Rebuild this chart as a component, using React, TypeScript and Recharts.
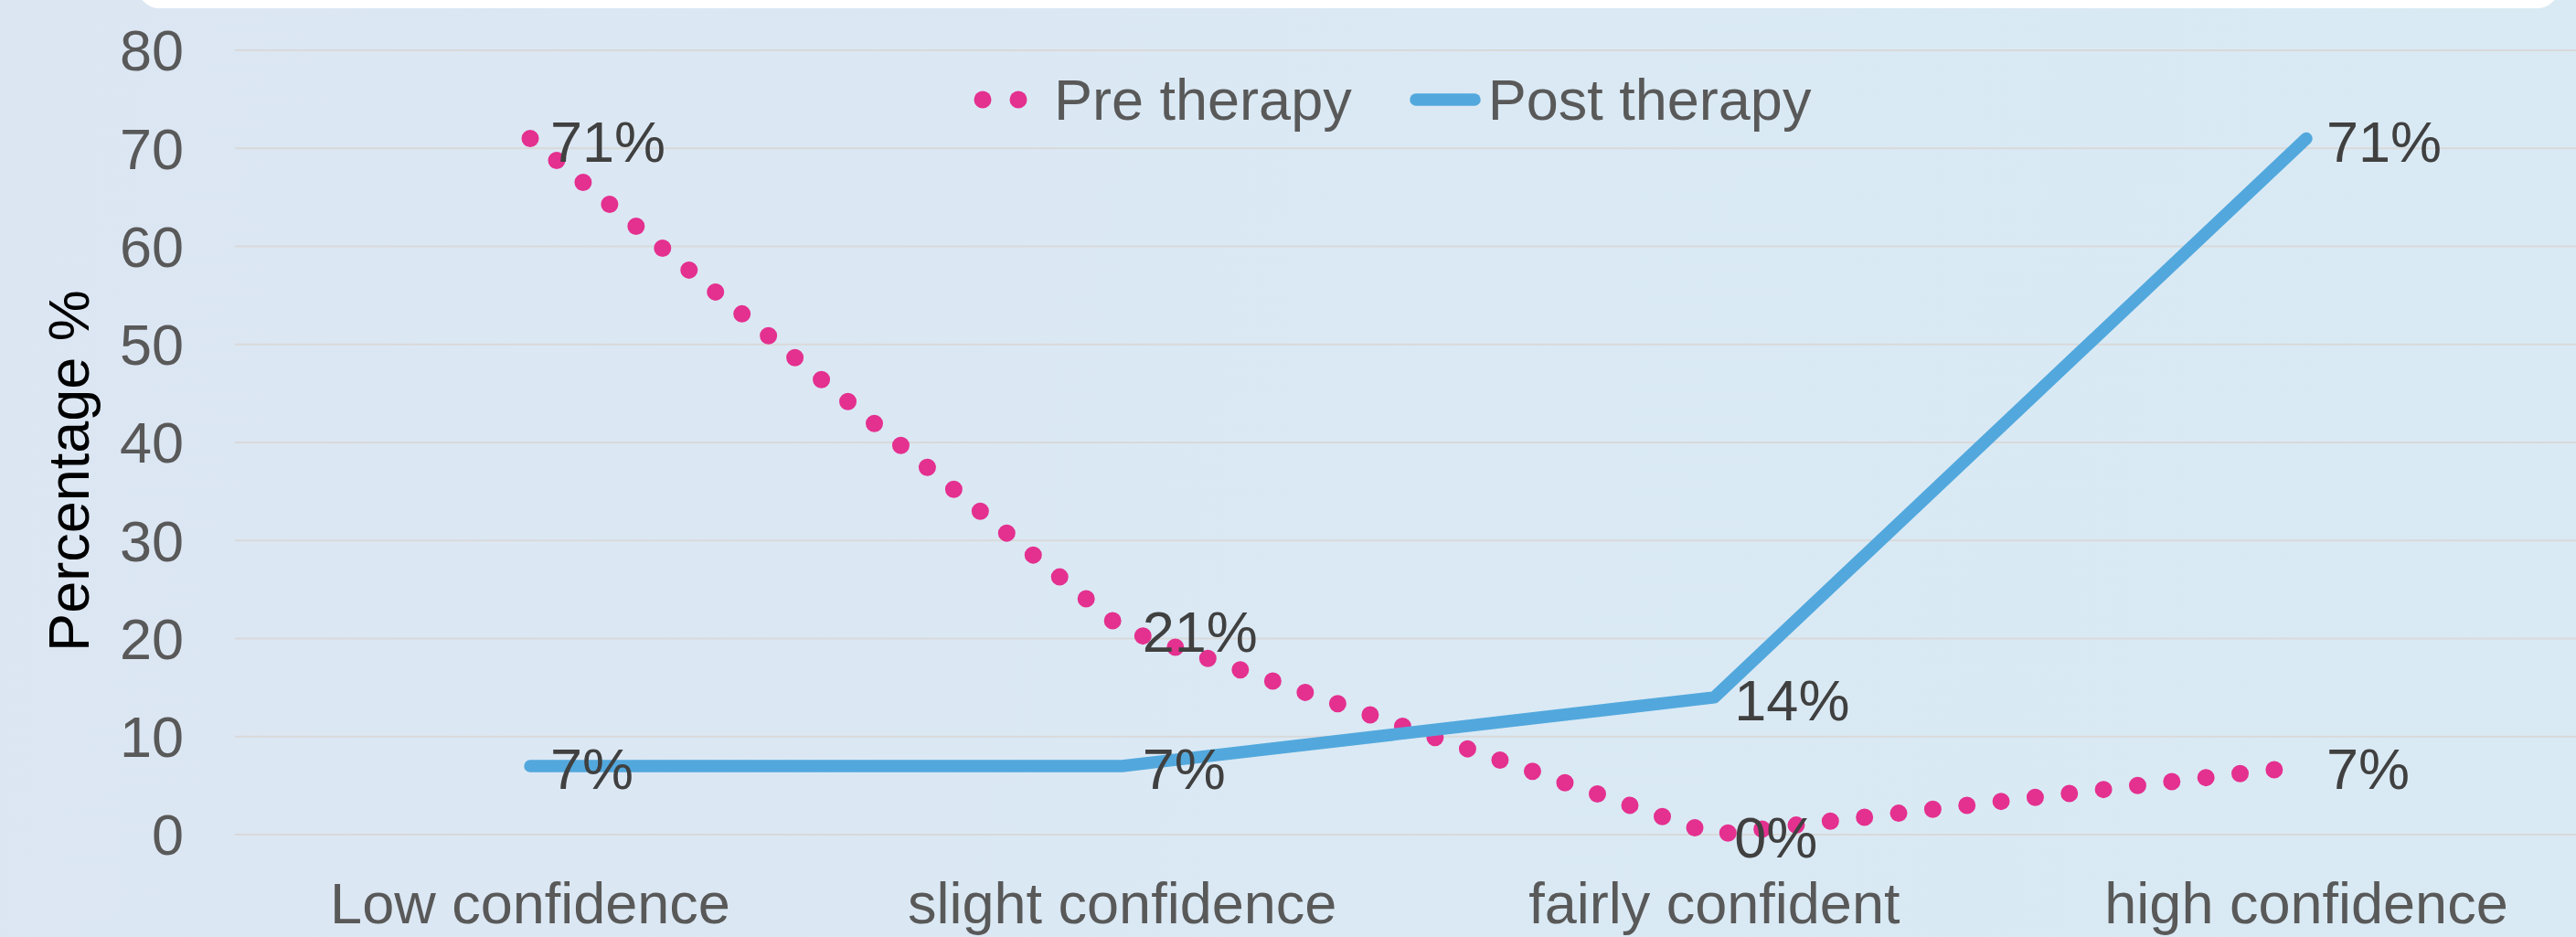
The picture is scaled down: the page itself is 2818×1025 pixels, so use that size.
import React from 'react';
import { LineChart, Line, XAxis, YAxis, CartesianGrid, Legend, LabelList, Label } from 'recharts';

const categories = ['Low confidence', 'slight confidence', 'fairly confident', 'high confidence'];
const preTherapy = [71, 21, 0, 7];
const postTherapy = [7, 7, 14, 71];
const yTicks = [0, 10, 20, 30, 40, 50, 60, 70, 80];
const seriesNames = ['Pre therapy', 'Post therapy'];

const data = categories.map((c, i) => ({ category: c, pre: preTherapy[i], post: postTherapy[i] }));

const FONT = "'Liberation Sans', Arial, Helvetica, sans-serif";
const FS = 63;
const PINK = '#E4308F';
const BLUE = '#52A8DD';
const TICK = '#595959';
const LABEL = '#404040';

const renderPointLabel = (props: any) => {
  const x = props.x ?? props.viewBox?.x;
  const y = props.y ?? props.viewBox?.y;
  if (x == null || y == null) return null;
  return (
    <text x={x + 22} y={y} dy={25} fill={LABEL} fontSize={FS} fontFamily={FONT} textAnchor="start">
      {`${props.value}%`}
    </text>
  );
};

const renderYLabel = (props: any) => {
  const vb = props.viewBox || { x: 0, y: 55, width: 257, height: 858 };
  const cx = vb.x + 75;
  const cy = vb.y + vb.height / 2 + 31;
  return (
    <text
      x={cx}
      y={cy}
      transform={`rotate(-90, ${cx}, ${cy})`}
      textAnchor="middle"
      dominantBaseline="central"
      fill="#000000"
      fontSize={FS}
      fontFamily={FONT}
    >
      Percentage %
    </text>
  );
};

const renderLegend = () => (
  <div
    style={{
      display: 'flex',
      alignItems: 'center',
      fontFamily: FONT,
      fontSize: FS,
      color: TICK,
      whiteSpace: 'nowrap',
      lineHeight: 'normal',
    }}
  >
    <svg width={78} height={22} style={{ display: 'block' }}>
      <circle cx={10} cy={11} r={9.5} fill={PINK} />
      <circle cx={49} cy={11} r={9.5} fill={PINK} />
    </svg>
    <span style={{ marginLeft: 10 }}>{seriesNames[0]}</span>
    <svg width={92} height={22} style={{ display: 'block', marginLeft: 57 }}>
      <line x1={13} y1={11} x2={77} y2={11} stroke={BLUE} strokeWidth={13.5} strokeLinecap="round" />
    </svg>
    <span>{seriesNames[1]}</span>
  </div>
);

export default function App() {
  return (
    <div
      style={{
        position: 'absolute',
        left: 0,
        top: 0,
        width: 2818,
        height: 1025,
        overflow: 'hidden',
        background: 'linear-gradient(100deg, #dce6f3 0%, #dae9f4 55%, #d9eaf4 100%)',
      }}
    >
      <div
        style={{
          position: 'absolute',
          left: 150,
          top: -40,
          width: 2650,
          height: 49,
          background: '#ffffff',
          borderRadius: 32,
        }}
      />
      <div style={{ position: 'absolute', left: 0, top: 0 }}>
        <LineChart
          width={2860}
          height={1025}
          data={data}
          margin={{ top: 55, right: 14, bottom: 0, left: 0 }}
          style={{ fontFamily: FONT }}
        >
          <CartesianGrid horizontal={true} vertical={false} stroke="#D9D9D9" strokeWidth={2} />
          <XAxis
            dataKey="category"
            scale="point"
            padding={{ left: 323, right: 323 }}
            axisLine={false}
            tickLine={false}
            tickSize={0}
            tickMargin={52}
            height={112}
            interval={0}
            tick={{ fill: TICK, fontSize: FS, fontFamily: FONT }}
          />
          <YAxis
            domain={[0, 80]}
            ticks={yTicks}
            interval={0}
            width={257}
            axisLine={false}
            tickLine={false}
            tickSize={0}
            tickMargin={56}
            tick={{ fill: TICK, fontSize: FS, fontFamily: FONT }}
          >
            <Label content={renderYLabel} />
          </YAxis>
          <Legend
            layout="horizontal"
            verticalAlign="middle"
            align="center"
            content={renderLegend}
            wrapperStyle={{ top: 73, left: 1065, width: 1100, height: 75 }}
          />
          <Line
            type="linear"
            dataKey="pre"
            name={seriesNames[0]}
            stroke={PINK}
            strokeWidth={19}
            strokeDasharray="0 37.6"
            strokeLinecap="round"
            dot={false}
            activeDot={false}
            isAnimationActive={false}
          >
            <LabelList dataKey="pre" content={renderPointLabel} />
          </Line>
          <Line
            type="linear"
            dataKey="post"
            name={seriesNames[1]}
            stroke={BLUE}
            strokeWidth={13.5}
            strokeLinecap="round"
            strokeLinejoin="round"
            dot={false}
            activeDot={false}
            isAnimationActive={false}
          >
            <LabelList dataKey="post" content={renderPointLabel} />
          </Line>
        </LineChart>
      </div>
    </div>
  );
}
